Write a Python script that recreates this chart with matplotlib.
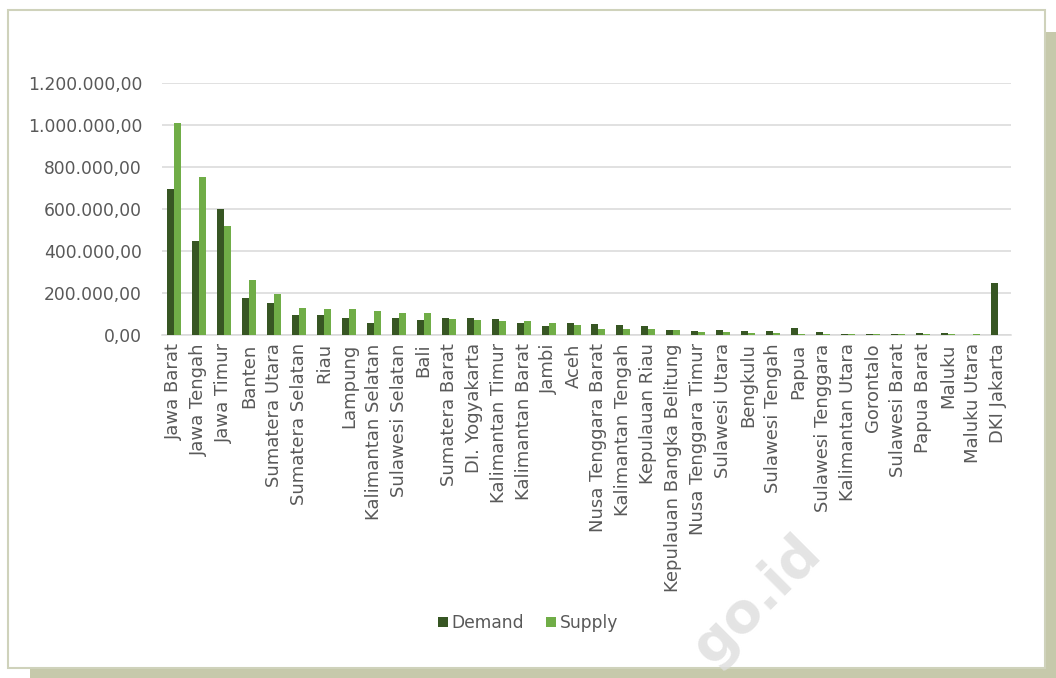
import numpy as np
import matplotlib.pyplot as plt
from matplotlib.patches import Rectangle
from matplotlib.ticker import FuncFormatter

# ============================================
# DATA
# ============================================
provinces = ['Jawa Barat', 'Jawa Tengah', 'Jawa Timur', 'Banten', 'Sumatera Utara',
             'Sumatera Selatan', 'Riau', 'Lampung', 'Kalimantan Selatan', 'Sulawesi Selatan',
             'Bali', 'Sumatera Barat', 'DI. Yogyakarta', 'Kalimantan Timur', 'Kalimantan Barat',
             'Jambi', 'Aceh', 'Nusa Tenggara Barat', 'Kalimantan Tengah', 'Kepulauan Riau',
             'Kepulauan Bangka Belitung', 'Nusa Tenggara Timur', 'Sulawesi Utara', 'Bengkulu',
             'Sulawesi Tengah', 'Papua', 'Sulawesi Tenggara', 'Kalimantan Utara', 'Gorontalo',
             'Sulawesi Barat', 'Papua Barat', 'Maluku', 'Maluku Utara', 'DKI Jakarta']

demand = [695000, 449000, 598000, 175000, 154000, 95000, 95000, 81000, 57000, 81000,
          70000, 83000, 79000, 75000, 56000, 41000, 56000, 52000, 49000, 41000,
          22000, 19000, 22000, 19000, 17000, 35000, 14000, 5000, 5000, 5000,
          8000, 10000, 2000, 249000]

supply = [1010000, 751000, 519000, 262000, 195000, 127000, 124000, 122000, 114000, 105000,
          105000, 75000, 71000, 68000, 67000, 56000, 48000, 30000, 28000, 30000,
          22000, 14000, 12000, 8000, 10000, 5000, 5000, 5000, 5000, 5000,
          3000, 3000, 4000, 0]

yticks = [0, 200000, 400000, 600000, 800000, 1000000, 1200000]

# ============================================
# STYLE
# ============================================
DEMAND_COLOR = '#375623'
SUPPLY_COLOR = '#70AD47'
TEXT_COLOR = '#595959'
GRID_COLOR = '#d9d9d9'
FRAME_COLOR = '#c6c9ab'

plt.rcParams['font.family'] = 'DejaVu Sans'

W, H = 1056, 678
fig = plt.figure(figsize=(W / 100, H / 100), dpi=100)
fig.patch.set_facecolor('white')

# card shadow + card
fig.patches.append(Rectangle((30 / W, 0), (W - 30) / W, (H - 32) / H,
                             transform=fig.transFigure, facecolor=FRAME_COLOR,
                             edgecolor='none', zorder=0))
fig.patches.append(Rectangle((8 / W, (H - 668) / H), (1045 - 8) / W, (668 - 10) / H,
                             transform=fig.transFigure, facecolor='white',
                             edgecolor='#cfd2bb', linewidth=1.5, zorder=1))

ax = fig.add_axes([161.5 / W, (H - 335) / H, (1010.5 - 161.5) / W, 252 / H])
ax.set_facecolor('none')
ax.set_zorder(2)

x = np.arange(len(provinces))
bw = 0.28
ax.bar(x - bw / 2, demand, bw, color=DEMAND_COLOR, label='Demand', zorder=3)
ax.bar(x + bw / 2, supply, bw, color=SUPPLY_COLOR, label='Supply', zorder=3)

ax.set_xlim(-0.5, len(provinces) - 0.5)
ax.set_ylim(0, 1200000)
ax.set_yticks(yticks)
ax.yaxis.set_major_formatter(FuncFormatter(
    lambda v, p: f'{v:,.2f}'.replace(',', 'X').replace('.', ',').replace('X', '.')))
ax.set_xticks(x)
ax.set_xticklabels(provinces, rotation=90, fontsize=13, color=TEXT_COLOR)
ax.tick_params(axis='y', labelsize=12.3, labelcolor=TEXT_COLOR, length=0, pad=14)
ax.tick_params(axis='x', length=0, pad=6)

ax.grid(axis='y', color=GRID_COLOR, linewidth=1.1, zorder=0)
ax.set_axisbelow(True)
for s in ['top', 'right', 'left']:
    ax.spines[s].set_visible(False)
ax.spines['bottom'].set_color(GRID_COLOR)
ax.spines['bottom'].set_linewidth(1.1)

fig.legend(loc='center', bbox_to_anchor=(528 / W, (H - 623) / H), ncol=2,
           frameon=False, fontsize=12.3, handlelength=0.6, handleheight=0.6,
           handletextpad=0.2, columnspacing=1.3, labelcolor=TEXT_COLOR)

# watermark
fig.text(757 / W, (H - 600) / H, 'go.id', rotation=45, fontsize=40, fontweight='bold',
         color='#dedede', alpha=0.8, ha='center', va='center', zorder=10)

plt.savefig('out.png', dpi=100, facecolor='white')
plt.close()
